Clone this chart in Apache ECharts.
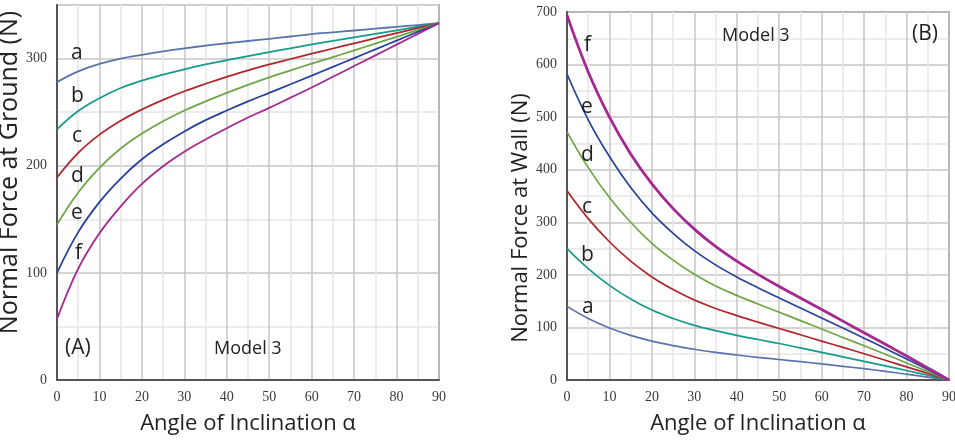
<!DOCTYPE html>
<html>
<head>
<meta charset="utf-8">
<script src="https://cdn.jsdelivr.net/npm/echarts@6/dist/echarts.min.js"></script>
<style>
  html, body { margin: 0; padding: 0; background: #fff; }
  #chart { width: 955px; height: 440px; }
</style>
</head>
<body>
<div id="chart"></div>
<script>
// angle of inclination (deg)
const angles = [0, 5, 10, 15, 20, 25, 30, 35, 40, 45, 50, 55, 60, 65, 70, 75, 80, 85, 90];

// (A) normal force at ground, curves a..f
const groundA = [278, 288, 295, 300, 303.5, 306.7, 309.5, 312, 314.3, 316.4, 318.4, 320.6, 322.8, 324.5, 326.2, 327.9, 329.6, 331.3, 333];
const groundB = [234, 251, 263, 272.5, 279.5, 285, 290, 294.5, 298.5, 302.3, 306, 309.6, 313.2, 316.5, 319.8, 323.1, 326.4, 329.7, 333];
const groundC = [189, 212, 229, 242, 252.5, 261.5, 269.5, 276.5, 283, 289, 294.5, 299.6, 304.6, 309.4, 314.2, 319, 323.8, 328.4, 333];
const groundD = [145, 175, 198, 216, 230, 241.5, 251.5, 260, 268, 275.5, 282.5, 289, 295.2, 301.4, 307.6, 314, 320.3, 326.6, 333];
const groundE = [100, 138, 166, 188, 206, 220, 232, 242.5, 251.5, 260, 268, 276, 284.1, 292.3, 300.4, 308.6, 316.7, 324.9, 333];
const groundF = [57, 104, 137, 162, 183, 199.5, 213, 224.5, 235, 245, 254, 263.5, 273, 283, 293, 303, 313, 323, 333];

// (B) normal force at wall, curves a..f
const wallA = [140, 117, 99, 85, 74, 65.5, 58.5, 52.5, 47.5, 43, 39, 35, 30.5, 26, 21.5, 16.5, 11, 5.5, 0];
const wallB = [250, 212, 180, 154, 133, 117, 104, 94, 85, 77, 69.5, 61, 52.5, 44, 35.5, 27, 18, 9, 0];
const wallC = [360, 307, 263, 226, 196, 172, 152, 136, 122.5, 110, 98, 86, 74, 62, 50, 37.5, 25, 12.5, 0];
const wallD = [472, 404, 347, 300, 260, 228, 201, 179, 161, 144.5, 129, 113, 97, 81, 65, 49, 32.5, 16, 0];
const wallE = [582, 495, 425, 366, 318, 279, 246, 219, 196, 175.5, 156, 137, 118, 99, 79.5, 60, 40, 20, 0];
const wallF = [694, 586, 500, 430, 373, 326, 287, 254, 226, 201, 178, 156, 134, 112, 90, 68, 45.5, 23, 0];

const curveNames = ['a', 'b', 'c', 'd', 'e', 'f'];
const curveColors = ['#5a74aa', '#179a8b', '#b0262c', '#6ca647', '#27429a', '#a4288f'];

const groundSets = [groundA, groundB, groundC, groundD, groundE, groundF];
const wallSets = [wallA, wallB, wallC, wallD, wallE, wallF];

const chart = echarts.init(document.getElementById('chart'));

const tickFont = { fontFamily: 'Liberation Serif', fontSize: 14, color: '#3a3a3a' };

function xAxisFor(idx) {
  return {
    type: 'value', gridIndex: idx, min: 0, max: 90, interval: 5,
    name: 'Angle of Inclination α', nameLocation: 'middle', nameGap: 33,
    nameTextStyle: { fontFamily: 'Open Sans', fontSize: 22, color: '#222' },
    axisLine: { show: true, onZero: false, lineStyle: { color: '#555', width: 2 } },
    axisTick: { show: false },
    axisLabel: Object.assign({ margin: 10, formatter: v => (v % 10 === 0 ? v : '') }, tickFont),
    splitLine: { show: true, lineStyle: { color: ['#c6c6c6', '#e6e6e6'], width: 1.5 } }
  };
}

function yAxisFor(idx, max, title, size, gap, pad) {
  return {
    type: 'value', gridIndex: idx, min: 0, max: max, interval: 50,
    name: title, nameLocation: 'middle', nameGap: gap,
    nameTextStyle: { fontFamily: 'Open Sans', fontSize: size, color: '#222', padding: pad },
    axisLine: { show: true, lineStyle: { color: '#555', width: 2 } },
    axisTick: { show: false },
    axisLabel: Object.assign({ margin: 10, formatter: v => (v % 100 === 0 ? v : '') }, tickFont),
    splitLine: { show: true, lineStyle: { color: ['#c6c6c6', '#e6e6e6'], width: 1.5 } }
  };
}

const series = [];
groundSets.forEach((vals, i) => {
  series.push({
    name: 'ground ' + curveNames[i], type: 'line', xAxisIndex: 0, yAxisIndex: 0,
    data: angles.map((a, k) => [a, vals[k]]),
    smooth: 0.4, symbol: 'none',
    lineStyle: { color: curveColors[i], width: 1.8 }
  });
});
wallSets.forEach((vals, i) => {
  series.push({
    name: 'wall ' + curveNames[i], type: 'line', xAxisIndex: 1, yAxisIndex: 1,
    data: angles.map((a, k) => [a, vals[k]]),
    smooth: 0.4, symbol: 'none',
    lineStyle: { color: curveColors[i], width: i === 5 ? 2.8 : 1.7 }
  });
});

// curve letters and panel notes
function txt(x, y, s, size) {
  return {
    type: 'text', left: x, top: y, z: 100,
    style: { text: s, fontFamily: 'Open Sans', fontSize: size || 21, fill: '#222' }
  };
}
const graphics = [
  txt(71, 43, 'a'), txt(71, 86, 'b'), txt(72, 126, 'c'), txt(71, 166, 'd'), txt(71, 203, 'e'), txt(75, 243, 'f'),
  txt(65, 338, '(A)', 21), txt(214, 340, 'Model 3', 18),
  txt(584, 35, 'f'), txt(581, 97, 'e'), txt(581, 145, 'd'), txt(582, 197, 'c'), txt(581, 245, 'b'), txt(582, 297, 'a'),
  txt(722, 27, 'Model 3', 18), txt(912, 24, '(B)', 21)
];

const option = {
  backgroundColor: '#fff',
  animation: false,
  grid: [
    { left: 57, top: 5, width: 382, height: 375, outerBoundsMode: 'none', show: true, borderColor: '#666', borderWidth: 1.5 },
    { left: 567, top: 12, width: 382, height: 368, outerBoundsMode: 'none', show: true, borderColor: '#666', borderWidth: 1.5 }
  ],
  xAxis: [xAxisFor(0), xAxisFor(1)],
  yAxis: [
    yAxisFor(0, 350, 'Normal Force at Ground (N)', 25, 33, [0, 0, 0, 40]),
    yAxisFor(1, 700, 'Normal Force at Wall (N)', 22, 34, [0, 44, 0, 0])
  ],
  series: series,
  graphic: graphics
};

chart.setOption(option);
</script>
</body>
</html>
